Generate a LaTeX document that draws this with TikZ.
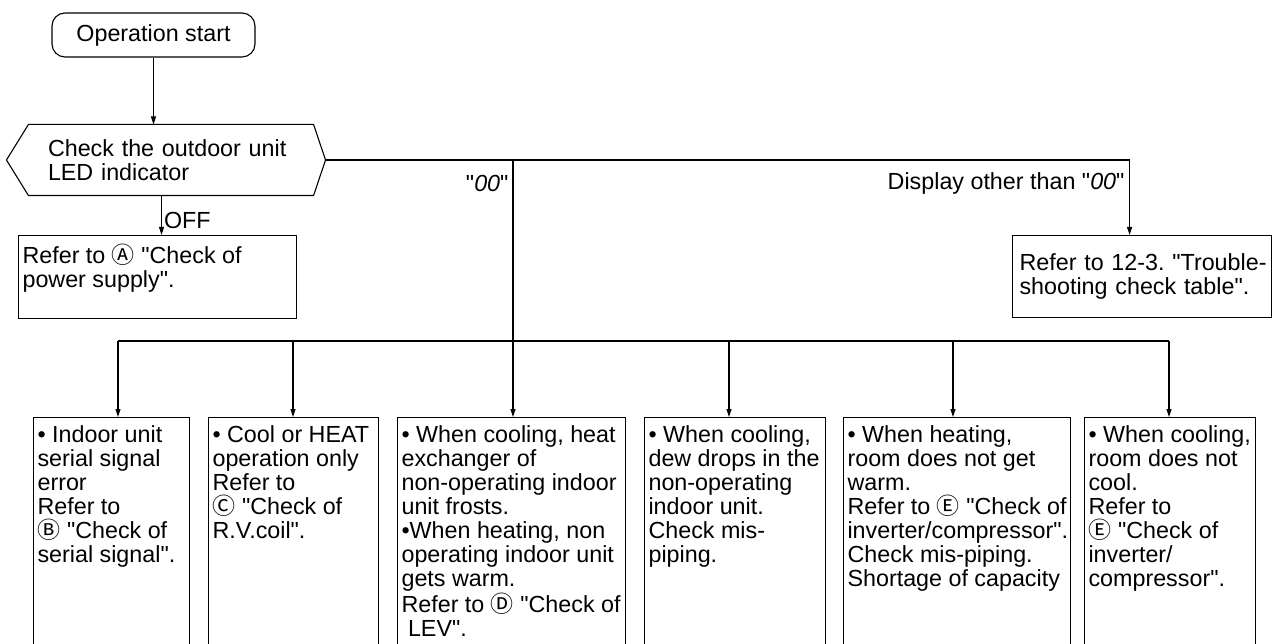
\documentclass[tikz,border=0pt]{standalone}
\usepackage{fontspec}
\setmainfont{Liberation Sans}[Ligatures=TeXOff]
\newfontfamily\circfont{Noto Sans CJK JP}
\newcommand{\circlet}[1]{{\circfont\fontsize{23}{24}\selectfont #1}}
\usetikzlibrary{arrows.meta,positioning}
\frenchspacing

\begin{document}
\begin{tikzpicture}[x=1pt,y=-1pt,line width=1.1pt,
      every node/.style={font=\fontsize{23.3}{24}\selectfont},
      flow/.style={-{Triangle[length=8pt,width=5pt]}},
      panel/.style={draw,anchor=north west,minimum height=260pt,inner sep=0pt},
      paneltext/.style={anchor=north west,align=left,inner xsep=4pt,inner ysep=8.5pt}]
  \useasboundingbox (0,0) rectangle (1273,644);
  \clip (0,0) rectangle (1273,644);

  % start and LED check
  \node[draw,rounded corners=13pt,minimum width=203pt,minimum height=44pt] (start)
        at (153.5,35) {Operation start};
  \node[minimum width=284pt,minimum height=70pt,text width=246pt,
        inner xsep=19pt,align=left] (chk)
        at (171,160) {Check the outdoor unit\\LED indicator};
  \draw (chk.north west) -- (chk.north east) -- ([xshift=12pt]chk.east) coordinate (chkR)
        -- (chk.south east) -- (chk.south west) -- ([xshift=-22pt]chk.west) -- cycle;
  \draw[flow] (start.south) -- (start.south |- chk.north);

  % LED off / other display
  \node[panel,minimum width=278pt,minimum height=83pt] (pwr) at (18,235) {};
  \node[paneltext] (pwrt) at (pwr.north west)
        {Refer to \circlet{Ⓐ} "Check of\\power supply".};
  \node[draw,anchor=north west,minimum width=259pt,minimum height=82pt,
        text width=245pt,inner xsep=7pt,align=left] (tbl)
        at (1012,235) {\mbox{Refer to 12-3. "Trouble-}\\shooting check table".};
  \draw[flow] ([xshift=-9.5pt]chk.south) -- ([xshift=-9.5pt]chk.south |- pwr.north)
        node[pos=0.62,anchor=west,inner sep=2pt] (offlbl) {OFF};
  \draw[flow] (chkR) -| ([xshift=-12.5pt]tbl.north);
  \node[anchor=east,inner sep=2pt] (otherlbl) at (1127,183) {Display other than "\textit{00}"};

  % "00" branches
  \coordinate (tee) at (513,160);
  \node[anchor=east,inner sep=2pt] (zzlbl) at (511,183) {"\textit{00}"};
  \foreach \x/\n in {118/1,293/2,513/3,729/4,953/5,1169/6}
    \coordinate (d\n) at (\x,341);
  \draw (d1) -- (d6);

  \node[panel,minimum width=156pt] (p1) at (33,417) {};
  \node[panel,minimum width=170pt] (p2) at (208,417) {};
  \node[panel,minimum width=228pt] (p3) at (397,417) {};
  \node[panel,minimum width=181pt] (p4) at (644,417) {};
  \node[panel,minimum width=227pt] (p5) at (843,417) {};
  \node[panel,minimum width=171pt] (p6) at (1084,417) {};

  \draw[flow] (tee) -- (d3) -- (d3 |- p3.north);
  \foreach \n in {1,2,4,5,6}
    \draw[flow] (d\n) -- (d\n |- p\n.north);

  \node[paneltext] (p1t) at (p1.north west)
        {• Indoor unit\\serial signal\\error\\Refer to\\\circlet{Ⓑ} "Check of\\serial signal".};
  \node[paneltext] (p2t) at (p2.north west)
        {• Cool or HEAT\\operation only\\Refer to\\\circlet{Ⓒ} "Check of\\R.V.coil".};
  \node[paneltext] (p3t) at (p3.north west)
        {• When cooling, heat\\exchanger of\\non-operating indoor\\unit frosts.\\
         •When heating, non\\operating indoor unit\\gets warm.\\
         Refer to \circlet{Ⓓ} "Check of\\\ LEV".};
  \node[paneltext] (p4t) at (p4.north west)
        {• When cooling,\\dew drops in the\\non-operating\\indoor unit.\\Check mis-\\piping.};
  \node[paneltext] (p5t) at (p5.north west)
        {• When heating,\\room does not get\\warm.\\Refer to \circlet{Ⓔ} "Check of\\
         inverter/compressor".\\Check mis-piping.\\Shortage of capacity};
  \node[paneltext] (p6t) at (p6.north west)
        {• When cooling,\\room does not\\cool.\\Refer to\\\circlet{Ⓔ} "Check of\\inverter/\\compressor".};
\end{tikzpicture}
\end{document}
